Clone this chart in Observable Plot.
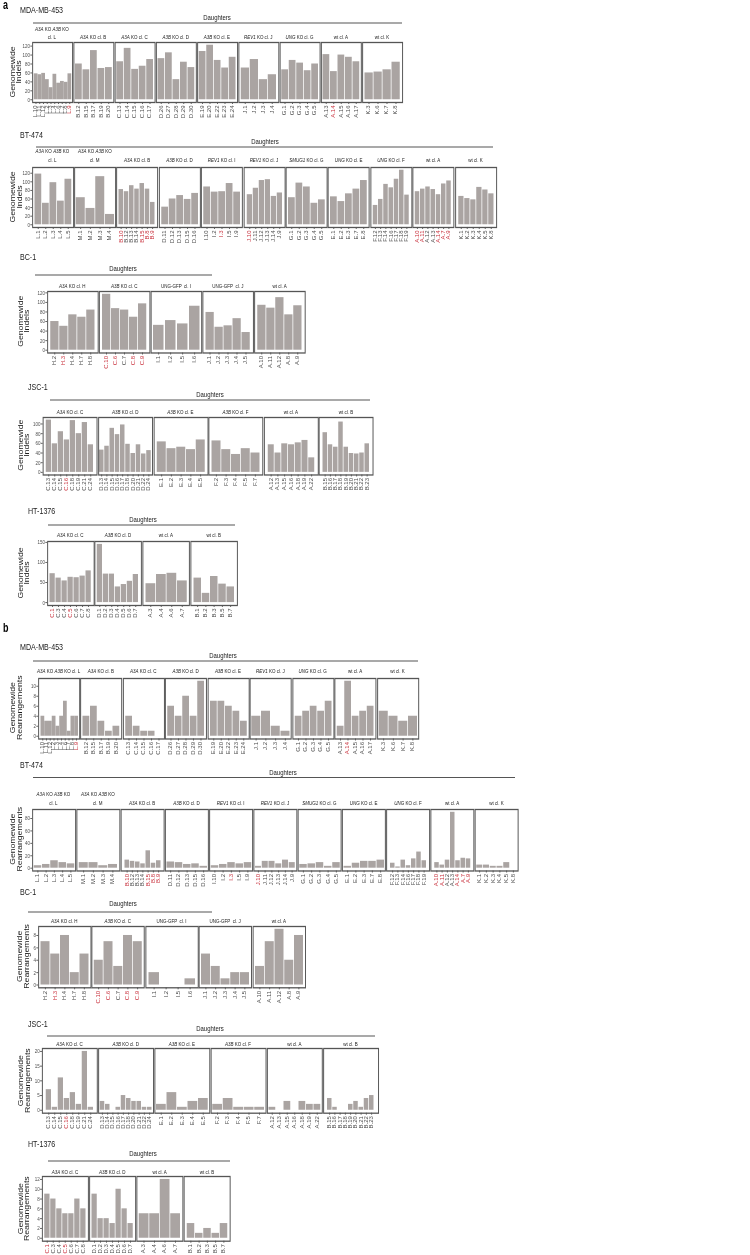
<!DOCTYPE html>
<html><head><meta charset="utf-8">
<script src="https://cdn.jsdelivr.net/npm/d3@7"></script>
<script src="https://cdn.jsdelivr.net/npm/@observablehq/plot@0.6"></script>
<style>
html,body{margin:0;padding:0;background:#fff;overflow:hidden;width:750px;height:1255px;}
#root{position:absolute;left:0;top:0;height:1255px;transform-origin:0 0;}
.panel{position:absolute;}
.panel svg{overflow:visible;display:block;}
#overlay{position:absolute;left:0;top:0;pointer-events:none;overflow:visible;}
</style></head><body><div id="root"></div><script>
// ---------------- DATA ----------------
// MDA-MB-453
const mdaClonesIndel = ["A3A KO A3B KO\ncl. L","A3A KO cl. B","A3A KO cl. C","A3B KO cl. D","A3B KO cl. E","REV1 KO cl. J","UNG KO cl. G","wt cl. A","wt cl. K"];
const mdaClonesRearr = ["A3A KO A3B KO cl. L","A3A KO cl. B","A3A KO cl. C","A3B KO cl. D","A3B KO cl. E","REV1 KO cl. J","UNG KO cl. G","wt cl. A","wt cl. K"];
const mdaSamples = [["L.10","L.11","L.12","L.2","L.3","L.4","L.6","L.7","L.8","L.9"],["B.12","B.15","B.17","B.19","B.20"],["C.13","C.14","C.15","C.16","C.17"],["D.26","D.27","D.28","D.29","D.30"],["E.19","E.20","E.22","E.23","E.24"],["J.1","J.2","J.3","J.4"],["G.1","G.2","G.3","G.4","G.5"],["A.13","A.14","A.15","A.16","A.17"],["K.3","K.6","K.7","K.8"]];
const mdaIndels = [[58,56,59,45,27,57,37,41,39,58],[80,67,110,70,72],[85,115,68,75,90],[92,105,45,84,72],[108,122,88,71,95],[71,90,45,56],[67,88,82,65,80],[101,63,100,95,85],[60,62,67,84]];
const mdaRearr = [[4,3,3,4,2,4,7,1,4,4],[4,6,3,1,2],[4,2,1,1,0],[6,4,8,4,11],[7,7,6,5,3],[4,5,2,1],[4,5,6,5,7],[2,11,4,5,6],[5,4,3,4]];
const mdaRed = ["L.9","A.14"];

// BT-474
const btClones = ["A3A KO A3B KO\ncl. L","A3A KO A3B KO\ncl. M","A3A KO cl. B","A3B KO cl. D","REV1 KO cl. I","REV1 KO cl. J","SMUG1 KO cl. G","UNG KO cl. E","UNG KO cl. F","wt cl. A","wt cl. K"];
const btSamples = [["L.1","L.2","L.3","L.4","L.5"],["M.1","M.2","M.3","M.4"],["B.10","B.12","B.13","B.14","B.15","B.8","B.9"],["D.11","D.12","D.13","D.15","D.16"],["I.10","I.2","I.3","I.5","I.9"],["J.10","J.11","J.12","J.13","J.14","J.9"],["G.1","G.2","G.3","G.4","G.5"],["E.1","E.2","E.3","E.7","E.8"],["F.12","F.13","F.14","F.16","F.17","F.18","F.19"],["A.10","A.11","A.12","A.13","A.14","A.7","A.9"],["K.1","K.2","K.3","K.4","K.5","K.8"]];
const btIndels = [[118,50,98,55,106],[63,38,112,24],[82,77,91,83,96,83,52],[41,60,68,59,73],[88,76,77,96,76],[70,85,103,105,66,74],[63,97,88,50,58],[65,54,72,83,103],[45,59,94,86,106,127,69],[77,83,88,82,70,95,102],[66,61,58,87,81,72]];
const btRearr = [[4,6,12,9,7],[9,9,4,6],[13,11,10,7,28,8,12],[10,9,6,7,3],[4,6,9,7,9],[3,11,11,7,13,9],[6,7,9,3,9],[3,8,11,11,13],[8,2,13,4,15,26,12],[9,5,13,90,12,16,15],[5,5,3,3,9,0]];
const btRed = ["B.10","B.15","B.8","B.9","I.3","J.10","A.10","A.11","A.14","A.7","A.9"];

// BC-1
const bcClones = ["A3A KO cl. H","A3B KO cl. C","UNG-GFP  cl. I","UNG-GFP  cl. J","wt cl. A"];
const bcSamples = [["H.2","H.3","H.4","H.7","H.8"],["C.10","C.6","C.7","C.8","C.9"],["I.1","I.2","I.5","I.6"],["J.1","J.2","J.3","J.4","J.5"],["A.10","A.11","A.12","A.8","A.9"]];
const bcIndels = [[60,50,74,69,84],[117,87,84,69,97],[52,62,55,92],[79,48,51,66,37],[94,88,110,74,93]];
const bcRearr = [[7,5,8,2,5],[4,7,3,8,7],[2,0,0,1],[5,3,1,2,2],[3,7,9,4,8]];
const bcRed = ["H.3","C.10","C.6","C.8","C.9"];

// JSC-1
const jscClones = ["A3A KO cl. C","A3B KO cl. D","A3B KO cl. E","A3B KO cl. F","wt cl. A","wt cl. B"];
const jscSamples = [["C.13","C.14","C.15","C.16","C.18","C.19","C.21","C.24"],["D.13","D.14","D.15","D.16","D.17","D.18","D.20","D.21","D.22","D.24"],["E.1","E.2","E.3","E.4","E.5"],["F.2","F.3","F.4","F.5","F.7"],["A.12","A.13","A.15","A.16","A.18","A.19","A.22"],["B.15","B.16","B.17","B.18","B.19","B.20","B.21","B.22","B.23"]];
const jscIndels = [[108,59,84,67,107,80,103,57],[46,54,91,78,98,58,39,57,38,45],[63,49,52,47,67],[65,47,37,49,40],[57,40,59,57,61,66,30],[82,57,52,104,52,39,38,40,59]];
const jscRearr = [[7,1,11,4,6,2,20,1],[3,2,0,1,5,4,3,3,1,1],[2,6,1,3,4],[2,4,1,1,1],[1,0,3,0,3,2,2],[4,1,0,0,2,3,1,4,5]];
const jscRed = ["C.16"];

// HT-1376
const htClones = ["A3A KO cl. C","A3B KO cl. D","wt cl. A","wt cl. B"];
const htSamples = [["C.1","C.3","C.4","C.5","C.6","C.7","C.8"],["D.1","D.2","D.3","D.4","D.5","D.6","D.7"],["A.3","A.4","A.6","A.7"],["B.1","B.2","B.3","B.5","B.7"]];
const htIndels = [[72,61,54,63,62,66,79],[145,71,71,39,45,53,70],[47,70,73,54],[61,23,65,46,39]];
const htRearr = [[9,8,6,5,5,8,6],[9,4,4,3,10,6,3],[5,5,12,5],[3,1,2,1,3]];
const htRed = ["C.1","C.5"];

// tick labels
const ticksIndel120 = [0,20,40,60,80,100,120];
const ticksIndel100 = [0,20,40,60,80,100];
const ticksIndel150 = [0,50,100,150];
const ticksRearrMda = [0,2,4,6,8,10];
const ticksRearrBt = [0,20,40,60,80];
const ticksRearrBc = [0,2,4,6,8];
const ticksRearrJsc = [0,5,10,15,20];
const ticksRearrHt = [0,2,4,6,8,10,12];

const yLabelIndels = ["Genomewide","Indels"];
const yLabelRearr = ["Genomewide","Rearrangements"];

// ---------------- LAYOUT ----------------
const S = 0.75; // horizontal compression of the original figure
const W = 750 / S, H = 1255;
const FONT = "'Liberation Sans', Arial, Helvetica, sans-serif";
const BAR = "#aaa4a2", RED = "#c9303c", INK = "#1a1a1a", AXIS = "#4d4d4d", FRAME = "#555555";

const cells = {
  mda: {samples: mdaSamples, indels: mdaIndels, rearr: mdaRearr, red: mdaRed, lblI: mdaClonesIndel, lblR: mdaClonesRearr},
  bt:  {samples: btSamples, indels: btIndels, rearr: btRearr, red: btRed, lblI: btClones, lblR: btClones},
  bc:  {samples: bcSamples, indels: bcIndels, rearr: bcRearr, red: bcRed, lblI: bcClones, lblR: bcClones},
  jsc: {samples: jscSamples, indels: jscIndels, rearr: jscRearr, red: jscRed, lblI: jscClones, lblR: jscClones},
  ht:  {samples: htSamples, indels: htIndels, rearr: htRearr, red: htRed, lblI: htClones, lblR: htClones}
};

const rows = [
  {key:"mda", m:"I", title:"MDA-MB-453", tx:20, ty:13,  dx:217, dy:20,  l1:33, l2:402, ly:23,  fy:39.5, top:42,  bot:102, x0:32, x1:402, ylx:15.5, ticks:ticksIndel120},
  {key:"bt",  m:"I", title:"BT-474",     tx:20, ty:138, dx:265, dy:144.5, l1:36, l2:493, ly:147, fy:162, top:167, bot:227, x0:32, x1:496, ylx:16, ticks:ticksIndel120},
  {key:"bc",  m:"I", title:"BC-1",       tx:20, ty:260, dx:123, dy:271, l1:35, l2:212, ly:275, fy:288.5, top:290.5, bot:352, x0:47, x1:305, ylx:23.5, ticks:ticksIndel120},
  {key:"jsc", m:"I", title:"JSC-1",      tx:28, ty:390, dx:210, dy:397, l1:50, l2:370, ly:400, fy:414, top:416.5, bot:474, x0:43, x1:373, ylx:23.5, ticks:ticksIndel100},
  {key:"ht",  m:"I", title:"HT-1376",    tx:28, ty:514, dx:143, dy:522, l1:48, l2:235, ly:525, fy:537, top:541, bot:605, x0:47, x1:237, ylx:23.5, ticks:ticksIndel150},
  {key:"mda", m:"R", title:"MDA-MB-453", tx:20, ty:650, dx:223, dy:658, l1:33, l2:418, ly:661, fy:673.5, top:677.5, bot:738, x0:38, x1:418, ylx:16, ticks:ticksRearrMda},
  {key:"bt",  m:"R", title:"BT-474",     tx:20, ty:768.5, dx:283, dy:775, l1:33, l2:515, ly:777.5, fy:805, top:808.5, bot:870, x0:32, x1:518, ylx:16, ticks:ticksRearrBt},
  {key:"bc",  m:"R", title:"BC-1",       tx:20, ty:895, dx:123, dy:906, l1:28, l2:212, ly:912, fy:923.5, top:925.7, bot:987, x0:38, x1:305, ylx:23, ticks:ticksRearrBc},
  {key:"jsc", m:"R", title:"JSC-1",      tx:28, ty:1027, dx:210, dy:1031.5, l1:47, l2:375, ly:1036, fy:1046, top:1048.3, bot:1113, x0:42, x1:378, ylx:24, ticks:ticksRearrJsc},
  {key:"ht",  m:"R", title:"HT-1376",    tx:28, ty:1147, dx:143, dy:1156, l1:48, l2:230, ly:1161, fy:1174, top:1176.3, bot:1241, x0:42, x1:230, ylx:23.5, ticks:ticksRearrHt}
];

// ---------------- RENDER ----------------
const root = document.getElementById("root");
root.style.width = W + "px";
root.style.transform = `scaleX(${S})`;

const NS = "http://www.w3.org/2000/svg";
function el(tag, attrs, parent) {
  const e = document.createElementNS(NS, tag);
  for (const k in attrs) e.setAttribute(k, attrs[k]);
  if (parent) parent.appendChild(e);
  return e;
}
function richText(t, str) {
  const parts = str.split(/(A3A|A3B|REV1|SMUG1|UNG)(?= KO)/);
  parts.forEach((p, i) => {
    if (!p) return;
    const ts = el("tspan", {}, t);
    if (i % 2 === 1) ts.setAttribute("font-style", "italic");
    ts.textContent = p;
  });
}

function drawPanel(samples, values, red, ticks, dom, first, left, top, w, h) {
  const ML = first ? 18 : 1, MR = 1, MT = 1, MB = 26;
  const data = samples.map((s, i) => ({s, v: values[i]}));
  const chart = Plot.plot({
    width: ML + w + MR, height: MT + h + MB,
    marginLeft: ML, marginRight: MR, marginTop: MT, marginBottom: MB,
    style: {fontSize: "6px", fontFamily: FONT, color: AXIS, background: "transparent", overflow: "visible"},
    x: {domain: samples, paddingInner: 0.1, paddingOuter: 0.15, tickRotate: -90, tickSize: 2, tickPadding: 1, label: null},
    y: {domain: dom, ticks: ticks, tickSize: 2.6, tickPadding: 1, label: null, axis: first ? "left" : null},
    marks: [
      Plot.barY(data, {x: "s", y: "v", fill: BAR}),
      Plot.frame({stroke: FRAME, strokeWidth: 1.3})
    ]
  });
  const redSet = new Set(red);
  chart.querySelectorAll("text").forEach(t => {
    if (redSet.has(t.textContent.trim())) { t.setAttribute("fill", RED); t.style.fill = RED; }
  });
  const div = document.createElement("div");
  div.className = "panel";
  div.style.left = (left - ML) + "px";
  div.style.top = (top - MT) + "px";
  div.style.width = (ML + w + MR) + "px";
  div.appendChild(chart);
  root.appendChild(div);
}

rows.forEach(r => {
  const c = cells[r.key];
  const vals = r.m === "I" ? c.indels : c.rearr;
  const n = c.samples.length;
  const gap = 1.3;
  const pw = (r.x1 - r.x0 - gap * (n - 1)) / n;
  const M = d3.max(vals.flat());
  const dom = [-0.05 * M, 1.05 * M];
  c.samples.forEach((smp, i) => {
    const left = r.x0 + i * (pw + gap);
    drawPanel(smp, vals[i], c.red, r.ticks, dom, i === 0, left / S, r.top, pw / S, r.bot - r.top);
  });
});

// overlay with titles, headers, facet strips, axis titles
const ov = el("svg", {id: "overlay", width: W, height: H, viewBox: `0 0 ${W} ${H}`});
root.appendChild(ov);
ov.style.fontFamily = FONT;

function txt(x, y, s, size, opts = {}) {
  const t = el("text", {x, y, "font-size": size, fill: opts.fill || INK, "text-anchor": opts.anchor || "start"}, ov);
  if (opts.weight) t.setAttribute("font-weight", opts.weight);
  t.style.whiteSpace = "pre";
  if (opts.rich) richText(t, s); else t.textContent = s;
  if (opts.transform) t.setAttribute("transform", opts.transform);
  return t;
}

txt(3 / S, 9, "a", 12, {weight: "bold", fill: "#000"});
txt(3 / S, 632, "b", 12, {weight: "bold", fill: "#000"});

rows.forEach(r => {
  const c = cells[r.key];
  const labels = r.m === "I" ? c.lblI : c.lblR;
  const n = c.samples.length;
  const gap = 1.3;
  const pw = (r.x1 - r.x0 - gap * (n - 1)) / n;
  txt(r.tx / S, r.ty, r.title, 9.5);
  txt(r.dx / S, r.dy, "Daughters", 8, {anchor: "middle"});
  el("line", {x1: r.l1 / S, x2: r.l2 / S, y1: r.ly, y2: r.ly, stroke: FRAME, "stroke-width": 1.1}, ov);
  labels.forEach((lab, i) => {
    const cx = (r.x0 + i * (pw + gap) + pw / 2) / S;
    const lines = lab.split("\n");
    lines.forEach((ln, j) => {
      const y = r.fy - (lines.length - 1 - j) * 8.5;
      txt(cx, y, ln, 6, {anchor: "middle", rich: true});
    });
  });
  // y axis title
  const yl = r.m === "I" ? yLabelIndels : yLabelRearr;
  const cy = (r.top + r.bot) / 2;
  const cx = r.ylx / S;
  const fs = 8.7, LH = 8.8;
  yl.forEach((ln, j) => {
    const x = cx + (j - (yl.length - 1) / 2) * LH + fs * 0.36;
    txt(x, cy, ln, fs, {anchor: "middle", fill: INK, transform: `rotate(-90 ${x} ${cy})`});
  });
});
</script></body></html>
